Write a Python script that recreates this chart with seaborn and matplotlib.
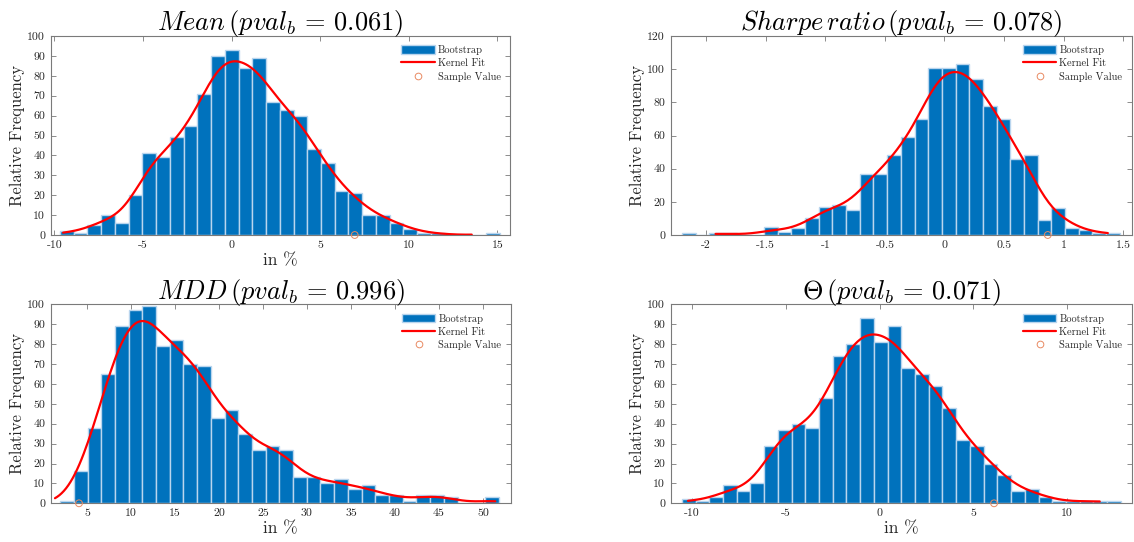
import numpy as np
import pandas as pd
import matplotlib
matplotlib.use("Agg")
import matplotlib.pyplot as plt
import seaborn as sns
import warnings
from matplotlib.patches import Patch
from matplotlib.lines import Line2D
from matplotlib.ticker import FuncFormatter, MultipleLocator

warnings.filterwarnings("ignore")
sns.set_style("ticks")
plt.rcParams["font.family"] = "serif"
plt.rcParams["font.serif"] = ["cmr10", "DejaVu Serif"]
plt.rcParams["mathtext.fontset"] = "cm"
plt.rcParams["axes.unicode_minus"] = False
plt.rcParams["axes.formatter.use_mathtext"] = False

# ---------------- data ----------------
titles = [r"$Mean\,(pval_b\,=\,0.061)$",
          r"$Sharpe\,ratio\,(pval_b\,=\,0.078)$",
          r"$MDD\,(pval_b\,=\,0.996)$",
          r"$\Theta\,(pval_b\,=\,0.071)$"]

# Mean
mean_first_center = -9.29
mean_bin_width = 0.775
mean_counts = [2, 1, 5, 10, 6, 20, 41, 39, 49, 55, 71, 90, 93, 84, 89, 67,
               63, 60, 43, 36, 22, 21, 10, 10, 6, 3, 1, 1, 0, 0, 0, 1]
mean_sample = 6.95
mean_curve_range = (-9.5, 13.55)

# Sharpe ratio
sharpe_first_center = -2.144
sharpe_bin_width = 0.1147
sharpe_counts = [1, 0, 1, 1, 0, 0, 5, 2, 4, 10, 17, 18, 15, 37, 37, 48, 59,
                 70, 101, 101, 103, 94, 78, 70, 46, 48, 9, 16, 4, 3, 1, 1]
sharpe_sample = 0.866
sharpe_curve_range = (-1.92, 1.37)

# MDD
mdd_first_center = 2.73
mdd_bin_width = 1.557
mdd_counts = [1, 16, 38, 65, 89, 97, 99, 79, 82, 70, 69, 43, 47, 35, 27, 29,
              27, 13, 13, 10, 12, 7, 9, 4, 4, 1, 4, 4, 3, 0, 0, 3]
mdd_sample = 4.09
mdd_curve_range = (1.36, 51.4)

# Theta
theta_first_center = -10.16
theta_bin_width = 0.7305
theta_counts = [2, 1, 3, 9, 6, 10, 29, 37, 40, 38, 53, 74, 80, 93, 81, 89,
                68, 65, 59, 48, 32, 29, 20, 14, 6, 7, 3, 1, 1, 1, 1, 1]
theta_sample = 6.10
theta_curve_range = (-10.2, 11.73)

panels = [
    dict(first=mean_first_center, w=mean_bin_width, counts=mean_counts,
         sample=mean_sample, crange=mean_curve_range, xlim=(-10.2, 15.72),
         ylim=(0, 100), ystep=10, xticks=[-10, -5, 0, 5, 10, 15], xlabel="in %"),
    dict(first=sharpe_first_center, w=sharpe_bin_width, counts=sharpe_counts,
         sample=sharpe_sample, crange=sharpe_curve_range, xlim=(-2.296, 1.57),
         ylim=(0, 120), ystep=20, xticks=[-2, -1.5, -1, -0.5, 0, 0.5, 1, 1.5], xlabel=None),
    dict(first=mdd_first_center, w=mdd_bin_width, counts=mdd_counts,
         sample=mdd_sample, crange=mdd_curve_range, xlim=(0.875, 53.15),
         ylim=(0, 100), ystep=10, xticks=[5, 10, 15, 20, 25, 30, 35, 40, 45, 50], xlabel="in %"),
    dict(first=theta_first_center, w=theta_bin_width, counts=theta_counts,
         sample=theta_sample, crange=theta_curve_range, xlim=(-11.12, 13.43),
         ylim=(0, 100), ystep=10, xticks=[-10, -5, 0, 5, 10], xlabel="in %"),
]

BAR = "#0072BD"
EDGE = "#b9d5ee"
RED = "#FF0000"
ORANGE = "#E98A62"
AXC = "#7a7a7a"
TXT = "#262626"

W, H = 1134, 542
fig = plt.figure(figsize=(W / 100, H / 100), dpi=100)
rects = [
    (50.7 / W, 1 - 235 / H, 459.5 / W, 199 / H),
    (670.7 / W, 1 - 235 / H, 461 / W, 199 / H),
    (50.7 / W, 1 - 503.3 / H, 460 / W, 199 / H),
    (670.7 / W, 1 - 503.3 / H, 461 / W, 199 / H),
]


def weighted_kde(centers, counts, grid, width):
    centers = np.asarray(centers, float)
    wts = np.asarray(counts, float)
    n = wts.sum()
    order = np.argsort(centers)
    c = centers[order]; ww = wts[order]
    cum = np.cumsum(ww) / n
    med = c[np.searchsorted(cum, 0.5)]
    dev = np.abs(centers - med)
    o2 = np.argsort(dev)
    cum2 = np.cumsum(wts[o2]) / n
    mad = dev[o2][np.searchsorted(cum2, 0.5)]
    sig = mad / 0.6745
    h = sig * (4.0 / (3.0 * n)) ** 0.2
    z = (grid[:, None] - centers[None, :]) / h
    dens = (np.exp(-0.5 * z ** 2) * wts[None, :]).sum(axis=1) / (n * h * np.sqrt(2 * np.pi))
    return dens * n * width


fmt = FuncFormatter(lambda v, p: f"{v:g}")

for i, (p, r) in enumerate(zip(panels, rects)):
    ax = fig.add_axes(r)
    counts = np.array(p["counts"], float)
    centers = p["first"] + p["w"] * np.arange(len(counts))
    lo = centers[0] - p["w"] / 2
    hi = centers[-1] + p["w"] / 2
    df = pd.DataFrame({"x": centers, "n": counts})
    sns.histplot(data=df, x="x", weights="n", binwidth=p["w"], binrange=(lo, hi),
                 ax=ax, color=BAR, alpha=1, edgecolor=EDGE, linewidth=1.0)
    grid = np.linspace(p["crange"][0], p["crange"][1], 200)
    kde = weighted_kde(centers, counts, grid, p["w"])
    sns.lineplot(x=grid, y=kde, ax=ax, color=RED, linewidth=1.6)
    sns.scatterplot(x=[p["sample"]], y=[0], ax=ax, marker="o", s=24,
                    facecolor="none", edgecolor=ORANGE, linewidth=0.7,
                    clip_on=False, zorder=5)
    ax.set_xlim(*p["xlim"])
    ax.set_ylim(*p["ylim"])
    ax.set_xticks(p["xticks"])
    ax.yaxis.set_major_locator(MultipleLocator(p["ystep"]))
    ax.xaxis.set_major_formatter(fmt)
    ax.yaxis.set_major_formatter(fmt)
    ax.tick_params(direction="in", length=3.5, width=0.6, colors=AXC,
                   labelcolor=TXT, labelsize=8.5, top=True, right=True, pad=4)
    for s in ax.spines.values():
        s.set_color(AXC)
        s.set_linewidth(0.8)
        s.set_visible(True)
    ax.set_ylabel("Relative Frequency", fontsize=12, color=TXT, labelpad=1.5)
    if p["xlabel"]:
        ax.set_xlabel(p["xlabel"], fontsize=12.5, color=TXT, labelpad=2)
    else:
        ax.set_xlabel("")
    ax.set_title(titles[i], fontsize=19, color="black", pad=4)
    handles = [Patch(facecolor=BAR, edgecolor=EDGE, linewidth=1.0),
               Line2D([0], [0], color=RED, linewidth=1.6),
               Line2D([0], [0], marker="o", linestyle="none", markersize=4.8,
                      markerfacecolor="none", markeredgecolor=ORANGE, markeredgewidth=0.7)]
    ax.legend(handles, ["Bootstrap", "Kernel Fit", "Sample Value"], loc="upper right",
              frameon=False, fontsize=7.5, handlelength=3.2, handleheight=0.9,
              labelspacing=0.3, borderaxespad=0.5, handletextpad=0.3,
              labelcolor=TXT)

fig.savefig("out.png", dpi=100)
